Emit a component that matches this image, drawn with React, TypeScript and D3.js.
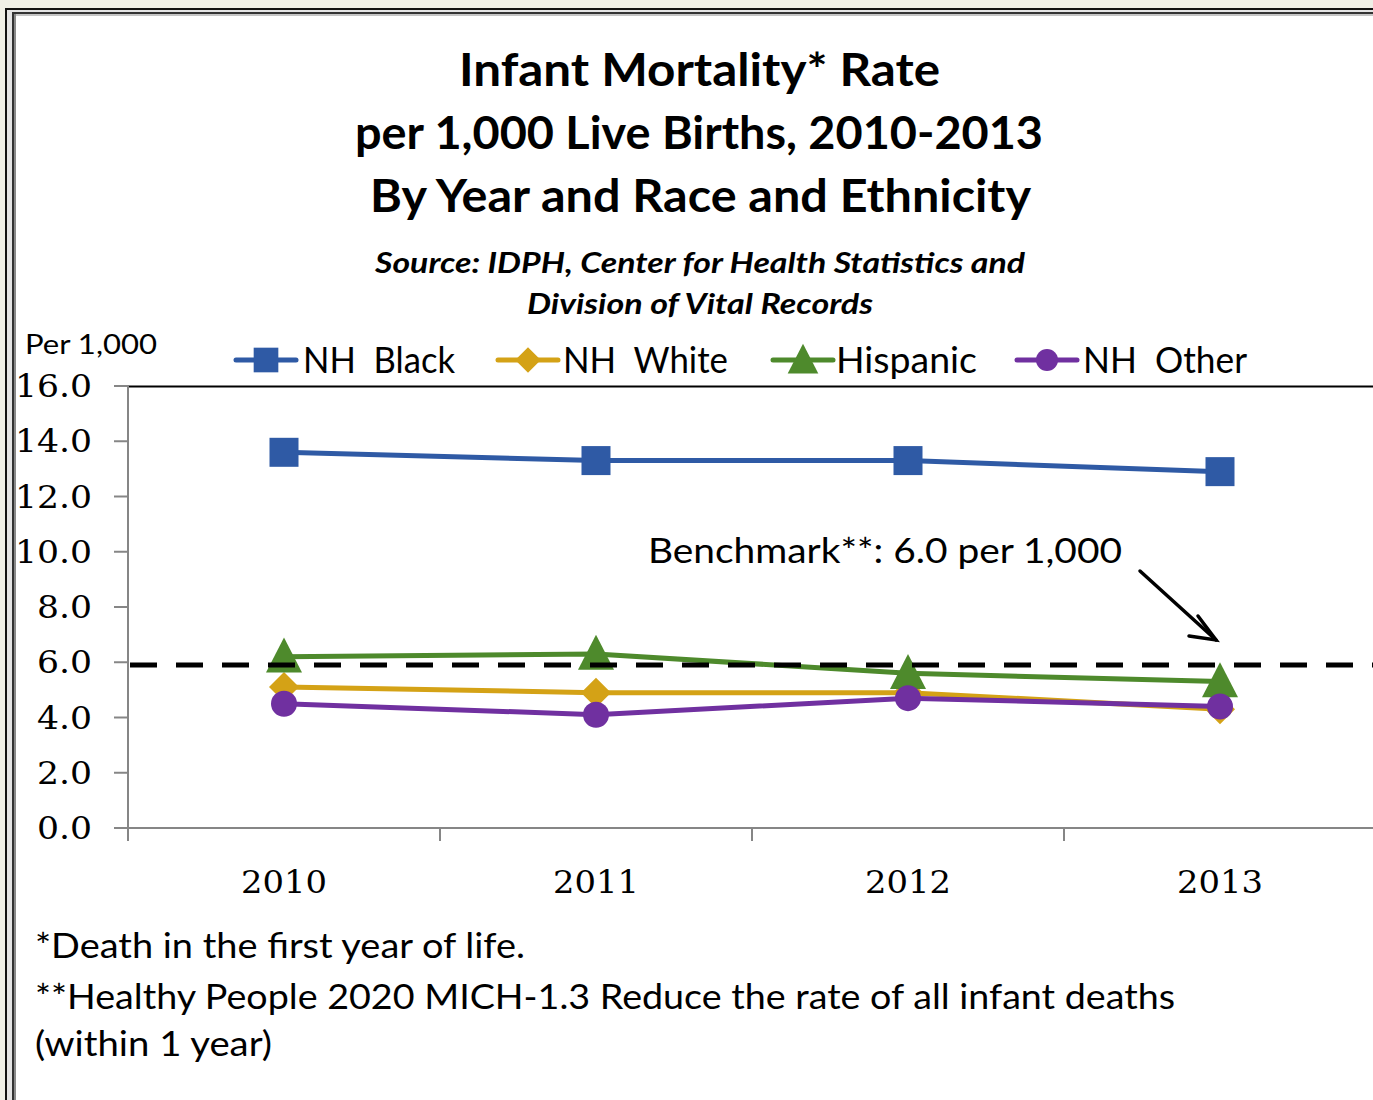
import React from "react";
import * as d3 from "d3";

const years = ["2010", "2011", "2012", "2013"];
const nhBlack = [13.6, 13.3, 13.3, 12.9];
const nhWhite = [5.1, 4.9, 4.9, 4.3];
const hispanic = [6.2, 6.3, 5.6, 5.3];
const nhOther = [4.5, 4.1, 4.7, 4.4];
const yTicks = [0, 2, 4, 6, 8, 10, 12, 14, 16];
const benchmarkLevel = 5.9;
const seriesNames = ["NH Black", "NH White", "Hispanic", "NH Other"];
const seriesColors = ["#2F5AA5", "#D4A216", "#4E8A2C", "#7030A0"];
const seriesShapes = ["square", "diamond", "triangle", "circle"];
const titleLines = [
  "Infant Mortality* Rate",
  "per 1,000 Live Births, 2010-2013",
  "By Year and Race and Ethnicity",
];
const sourceLines = [
  "Source: IDPH, Center for Health Statistics and",
  "Division of Vital Records",
];
const footnotes = [
  "*Death in the first year of life.",
  "**Healthy People 2020 MICH-1.3 Reduce the rate of all infant deaths",
  "(within 1 year)",
];

const W = 1373;
const H = 1100;
const SANS = "Lato, 'Open Sans', sans-serif";
const SERIF = "'DejaVu Serif', 'Liberation Serif', serif";

function Marker({ shape, x, y, color, scale = 1 }) {
  if (shape === "square") {
    const s = 29 * scale;
    return <rect x={x - s / 2} y={y - s / 2} width={s} height={s} fill={color} />;
  }
  if (shape === "diamond") {
    const r = 15 * scale;
    return (
      <path
        d={`M${x},${y - r}L${x + r},${y}L${x},${y + r}L${x - r},${y}Z`}
        fill={color}
      />
    );
  }
  if (shape === "triangle") {
    const w = 36 * scale;
    const h = 35 * scale;
    return (
      <path
        d={`M${x},${y - h * 0.55}L${x + w / 2},${y + h * 0.45}L${x - w / 2},${y + h * 0.45}Z`}
        fill={color}
      />
    );
  }
  return <circle cx={x} cy={y} r={13 * scale} fill={color} />;
}

export default function App() {
  const x = d3.scaleBand().domain(years).range([128, 1376]);
  const y = d3.scaleLinear().domain([0, 16]).range([828, 386]);
  const allSeries = [nhBlack, nhWhite, hispanic, nhOther];
  const line = d3
    .line()
    .x((d, i) => x(years[i]) + x.bandwidth() / 2)
    .y((d) => y(d));

  const legendItems = [
    { lx: 236, tx: 303, tw: 152 },
    { lx: 498, tx: 563, tw: 165 },
    { lx: 773, tx: 836, tw: 141 },
    { lx: 1017, tx: 1083, tw: 164 },
  ];
  const titleSpans = [
    [459, 940],
    [355, 1043],
    [370, 1031],
  ];
  const sourceSpans = [
    [375, 1025],
    [527, 873],
  ];
  const footSpans = [490, 1140, 237];
  const footY = [958, 1009, 1056];
  const by = y(benchmarkLevel);

  return (
    <svg
      width={W}
      height={H}
      style={{ position: "absolute", left: 0, top: 0 }}
      xmlns="http://www.w3.org/2000/svg"
    >
      <rect x={0} y={0} width={W} height={H} fill="#EFEFE6" />
      <rect x={5} y={8} width={W} height={H} fill="#FFFFFF" />
      {/* frame lines */}
      <line x1={6} y1={8} x2={6} y2={H} stroke="#111" strokeWidth={2} />
      <line x1={5} y1={9} x2={W} y2={9} stroke="#111" strokeWidth={2} />
      <rect x={7} y={10} width={W} height={2} fill="#E4E4E4" />
      <rect x={7} y={10} width={5} height={H} fill="#E4E4E4" />
      <line x1={13} y1={12} x2={13} y2={H} stroke="#333" strokeWidth={2} />
      <line x1={15} y1={14} x2={15} y2={H} stroke="#8A8A8A" strokeWidth={2} />
      <line x1={12} y1={13} x2={W} y2={13} stroke="#333" strokeWidth={2} />
      <line x1={14} y1={15} x2={W} y2={15} stroke="#8A8A8A" strokeWidth={1} />

      {/* titles */}
      {titleLines.map((t, i) => (
        <text
          key={t}
          x={titleSpans[i][0]}
          y={86 + i * 63}
          fontFamily={SANS}
          fontWeight="bold"
          fontSize={46}
          fill="#000"
          textLength={titleSpans[i][1] - titleSpans[i][0]}
          lengthAdjust="spacingAndGlyphs"
        >
          {t}
        </text>
      ))}
      {sourceLines.map((t, i) => (
        <text
          key={t}
          x={sourceSpans[i][0]}
          y={273 + i * 41}
          fontFamily={SANS}
          fontWeight="bold"
          fontStyle="italic"
          fontSize={28}
          fill="#000"
          textLength={sourceSpans[i][1] - sourceSpans[i][0]}
          lengthAdjust="spacingAndGlyphs"
        >
          {t}
        </text>
      ))}

      {/* y unit label */}
      <text
        x={25}
        y={354}
        fontFamily={SANS}
        fontSize={26}
        fill="#000"
        textLength={132}
        lengthAdjust="spacingAndGlyphs"
      >
        Per 1,000
      </text>

      {/* legend */}
      {seriesNames.map((name, i) => {
        const it = legendItems[i];
        const ly = 360;
        return (
          <g key={name}>
            <line
              x1={it.lx}
              y1={ly}
              x2={it.lx + 60}
              y2={ly}
              stroke={seriesColors[i]}
              strokeWidth={5}
              strokeLinecap="round"
            />
            <Marker shape={seriesShapes[i]} x={it.lx + 30} y={ly} color={seriesColors[i]} scale={0.85} />
            <text
              x={it.tx}
              y={373}
              fontFamily={SANS}
              fontSize={36}
              fill="#000"
              textLength={it.tw}
              lengthAdjust="spacingAndGlyphs"
            >
              {name.replace(" ", "\u00a0 ")}
            </text>
          </g>
        );
      })}

      {/* plot top border */}
      <line x1={128} y1={386.5} x2={W} y2={386.5} stroke="#000" strokeWidth={2} />

      {/* y axis */}
      <line x1={128} y1={386} x2={128} y2={828} stroke="#868686" strokeWidth={2} />
      {yTicks.map((t) => (
        <g key={t}>
          <line x1={114} y1={y(t)} x2={128} y2={y(t)} stroke="#868686" strokeWidth={2} />
          <text
            x={92}
            y={y(t) + 11}
            textAnchor="end"
            fontFamily={SERIF}
            fontSize={32}
            fill="#000"
            textLength={t >= 10 ? 77 : 55}
            lengthAdjust="spacingAndGlyphs"
          >
            {t.toFixed(1)}
          </text>
        </g>
      ))}

      {/* x axis */}
      <line x1={114} y1={828} x2={W} y2={828} stroke="#868686" strokeWidth={2} />
      {years.map((yr) => (
        <g key={yr}>
          <line x1={x(yr)} y1={828} x2={x(yr)} y2={841} stroke="#868686" strokeWidth={2} />
          <text
            x={x(yr) + x.bandwidth() / 2}
            y={893}
            textAnchor="middle"
            fontFamily={SERIF}
            fontSize={32}
            fill="#000"
            textLength={86}
            lengthAdjust="spacingAndGlyphs"
          >
            {yr}
          </text>
        </g>
      ))}

      {/* series */}
      {allSeries.map((vals, si) => (
        <g key={seriesNames[si]}>
          <path d={line(vals)} fill="none" stroke={seriesColors[si]} strokeWidth={5} />
          {vals.map((v, i) => (
            <Marker
              key={i}
              shape={seriesShapes[si]}
              x={x(years[i]) + x.bandwidth() / 2}
              y={y(v)}
              color={seriesColors[si]}
            />
          ))}
        </g>
      ))}

      {/* benchmark */}
      <line
        x1={130}
        y1={by}
        x2={W}
        y2={by}
        stroke="#000"
        strokeWidth={5}
        strokeDasharray="27,19"
      />
      <text
        x={648}
        y={563}
        fontFamily={SANS}
        fontSize={34}
        fill="#000"
        textLength={474}
        lengthAdjust="spacingAndGlyphs"
      >
        Benchmark**: 6.0 per 1,000
      </text>
      <g stroke="#000" strokeWidth={3.5} strokeLinecap="round" fill="none">
        <line x1={1140} y1={571} x2={1216} y2={640} />
        <path d="M1198,616 L1216,640 L1189,636" />
      </g>

      {/* footnotes */}
      {footnotes.map((t, i) => (
        <text
          key={t}
          x={35}
          y={footY[i]}
          fontFamily={SANS}
          fontSize={34}
          fill="#000"
          textLength={footSpans[i]}
          lengthAdjust="spacingAndGlyphs"
        >
          {t}
        </text>
      ))}
    </svg>
  );
}
